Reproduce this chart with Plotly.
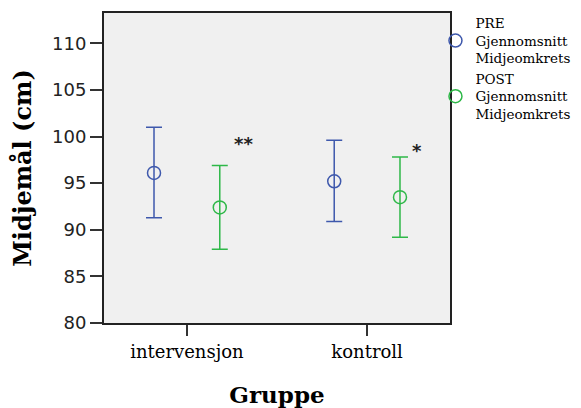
import plotly.graph_objects as go

groups = ["intervensjon", "kontroll"]
pre_mean = [96.1, 95.2]
pre_upper = [101.0, 99.6]
pre_lower = [91.3, 90.9]
post_mean = [92.4, 93.5]
post_upper = [96.9, 97.8]
post_lower = [87.9, 89.2]
sig_labels = ["<b>**</b>", "<b>*</b>"]
sig_y = [99.2, 98.5]

y_ticks = [80, 85, 90, 95, 100, 105, 110]

BLUE = "#3E58AC"
GREEN = "#2EB848"

def trace(name, mean, up, lo, color, grp):
    return go.Scatter(
        x=groups, y=mean, name=name, mode="markers",
        offsetgroup=grp, alignmentgroup="a",
        marker=dict(symbol="circle-open", size=13, color=color, line=dict(width=1.5, color=color)),
        error_y=dict(type="data", symmetric=False,
                     array=[u - m for u, m in zip(up, mean)],
                     arrayminus=[m - l for m, l in zip(mean, lo)],
                     color=color, thickness=1.5, width=8),
    )

fig = go.Figure()
fig.add_trace(trace("PRE<br>Gjennomsnitt<br>Midjeomkrets", pre_mean, pre_upper, pre_lower, BLUE, "pre"))
fig.add_trace(trace("POST<br>Gjennomsnitt<br>Midjeomkrets", post_mean, post_upper, post_lower, GREEN, "post"))

for g, lab, yy, xs in zip(groups, sig_labels, sig_y, [57, 50]):
    fig.add_annotation(x=g, y=yy, text=lab, showarrow=False, xshift=xs,
                       font=dict(family="DejaVu Sans", size=18, color="#222"))

fig.update_layout(
    width=573, height=400,
    margin=dict(l=96, r=131, t=5, b=85, autoexpand=False),
    paper_bgcolor="white", plot_bgcolor="#F0F0F0",
    scattermode="group", scattergap=0.27,
    showlegend=True,
    legend=dict(x=0.958, xanchor="left", y=1.017, yanchor="top",
                font=dict(family="DejaVu Serif", size=13.5, color="black"),
                itemwidth=30, tracegroupgap=0, bgcolor="rgba(0,0,0,0)"),
    xaxis=dict(type="category", range=[-0.46, 1.46], showgrid=False, zeroline=False,
               showline=True, linecolor="#222", linewidth=2, mirror=True,
               ticks="outside", ticklen=11, tickwidth=2, tickcolor="#333",
               tickfont=dict(family="DejaVu Serif", size=18, color="black"),
               title=dict(text="<b>Gruppe</b>", font=dict(family="DejaVu Serif", size=23, color="black"), standoff=29)),
    yaxis=dict(range=[80, 113.25], tickvals=y_ticks, showgrid=False, zeroline=False,
               showline=True, linecolor="#222", linewidth=2, mirror=True,
               ticks="outside", ticklen=12, tickwidth=2, tickcolor="#333",
               tickfont=dict(family="DejaVu Sans", size=18, color="#222"),
               title=dict(text="<b>Midjemål (cm)</b>", font=dict(family="DejaVu Serif", size=24, color="black"), standoff=14)),
)

fig.write_html("out.html")
